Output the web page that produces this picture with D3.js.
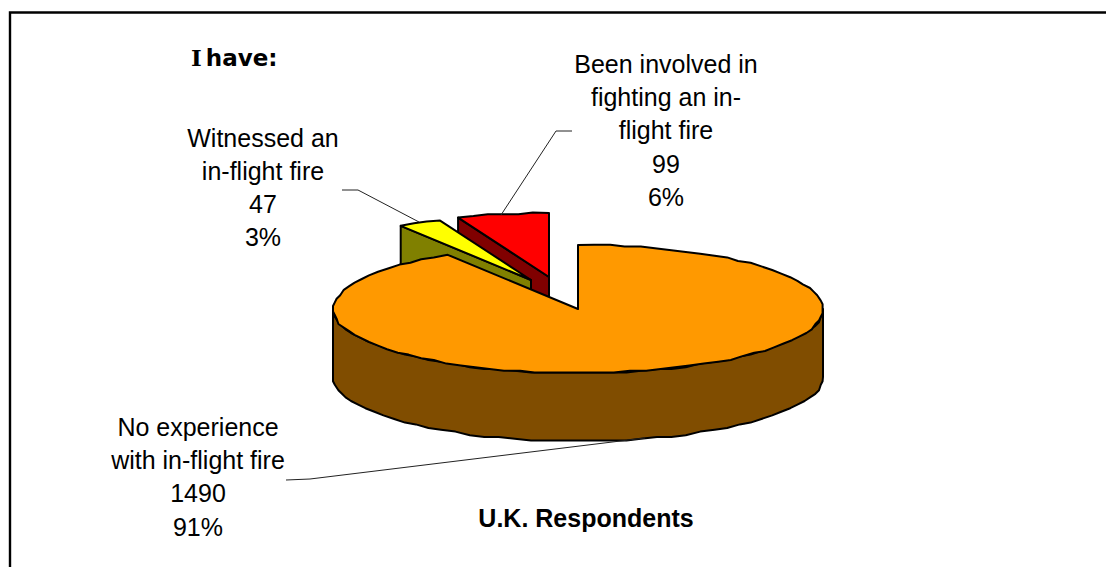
<!DOCTYPE html>
<html>
<head>
<meta charset="utf-8">
<script src="https://cdn.jsdelivr.net/npm/d3@7"></script>
<style>
html,body{margin:0;padding:0;background:#fff;overflow:hidden}
svg{display:block}
text{font-family:"Liberation Sans",Arial,sans-serif;fill:#000}
</style>
</head>
<body>
<svg id="chart" width="1106" height="567"></svg>
<script>
// Data
const categories = ["No experience with in-flight fire","Witnessed an in-flight fire","Been involved in fighting an in-flight fire"];
const values = [1490, 47, 99];
const percents = ["91%","3%","6%"];
const labelLines = [
  ["No experience","with in-flight fire"],
  ["Witnessed an","in-flight fire"],
  ["Been involved in","fighting an in-","flight fire"]
];
const topColors = ["#FF9900","#FFFF00","#FF0000"];
const sideColors = ["#804D00","#808000","#800000"];

// Layout
const W = 1106, H = 567;
const rx = 245, ry = 64, depth = 68, grid = 1.8;
const tips = [[578,309],[531,280],[549,277]];
const labelPos = [[198,436],[263,146.5],[666,73]];
const lineStep = 33.2, fontSize = 25;
const leaders = [
  [[645,438],[310,479],[286,480]],
  [[419,222],[358,190],[342,190]],
  [[501,215],[556,131],[572,131]]
];

const svg = d3.select("#chart");
svg.append("rect").attr("width",W).attr("height",H).attr("fill","#fff");

const line = d3.line().curve(d3.curveLinear);

// Frame: only top and left are in view
svg.append("path").attr("d", line([[10,H],[10,12.5],[W,12.5]]))
  .attr("fill","none").attr("stroke","#000").attr("stroke-width",2.4);

const pie = d3.pie().sort(null).value(d=>d).startAngle(0).endAngle(2*Math.PI);
const arcs = pie(values);

const sx = d3.scaleLinear().domain([-1,1]);
const sy = d3.scaleLinear().domain([-1,1]);
function project(i, a, dz, snap){
  sx.range([tips[i][0]-rx, tips[i][0]+rx]);
  sy.range([tips[i][1]+ry, tips[i][1]-ry]);
  let x = sx(Math.sin(a)), y = sy(Math.cos(a));
  if(snap){ x = Math.round(x/grid)*grid; y = Math.round(y/grid)*grid; }
  return [x, y+dz];
}
function sampleArc(i, a0, a1, dz){
  const n = Math.max(2, Math.ceil(Math.abs(a1-a0)/(Math.PI/48)));
  return d3.range(n+1).map(k=>{
    const a = a0+(a1-a0)*k/n;
    return project(i,a,dz,k>0&&k<n);
  });
}

function draw(pts, fill){
  svg.append("path").attr("d",line(pts)+"Z").attr("fill",fill)
    .attr("stroke","#000").attr("stroke-width",2).attr("stroke-linejoin","round");
}

// Back to front: red, yellow, then the main slice
[2,1].forEach(i=>{
  const d = arcs[i], t = tips[i];
  const o = project(i,d.startAngle,0,false);
  draw([t,o,[o[0],o[1]+depth],[t[0],t[1]+depth]], sideColors[i]);
  draw([t].concat(sampleArc(i,d.startAngle,d.endAngle,0)), topColors[i]);
});

// Main slice: rim along the visible front half, then top face
const front = sampleArc(0,Math.PI/2,3*Math.PI/2,0);
const frontLow = sampleArc(0,Math.PI/2,3*Math.PI/2,depth).reverse();
draw(front.concat(frontLow), sideColors[0]);
draw([tips[0]].concat(sampleArc(0,arcs[0].startAngle,arcs[0].endAngle,0)), topColors[0]);

// Leader lines
leaders.forEach(l=>{
  svg.append("path").attr("d",line(l)).attr("fill","none")
    .attr("stroke","#222").attr("stroke-width",1);
});

// Slice labels
categories.forEach((c,i)=>{
  const lines = labelLines[i].concat([String(values[i]),percents[i]]);
  svg.append("g").selectAll("text").data(lines).join("text")
    .attr("x",labelPos[i][0]).attr("y",(d,k)=>labelPos[i][1]+k*lineStep)
    .attr("text-anchor","middle").attr("font-size",fontSize).text(d=>d);
});

// Titles
const t1 = svg.append("text").attr("x",191).attr("y",66)
  .attr("font-size",23).attr("font-weight","bold").style("font-family","'DejaVu Sans',sans-serif");
t1.append("tspan").style("font-family","'DejaVu Serif',serif").text("I");
t1.append("tspan").attr("dx",4).text("have:");
svg.append("text").attr("x",586).attr("y",527).attr("text-anchor","middle")
  .attr("font-size",25).attr("font-weight","bold").text("U.K. Respondents");
</script>
</body>
</html>
